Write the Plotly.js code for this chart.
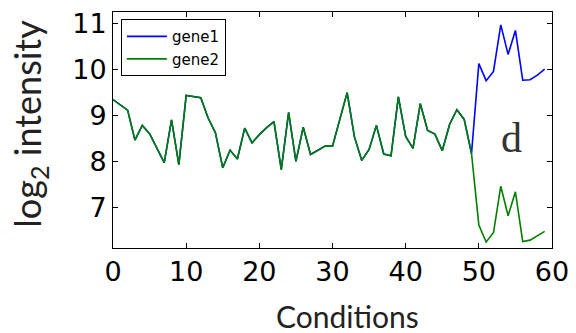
<!DOCTYPE html>
<html>
<head>
<meta charset="utf-8">
<script src="https://cdn.plot.ly/plotly-3.0.1.min.js"></script>
<style>html,body{margin:0;padding:0;background:#fff;}#chart{width:576px;height:333px;}</style>
</head>
<body>
<div id="chart"></div>
<script>
var conditions = [0,1,2,3,4,5,6,7,8,9,10,11,12,13,14,15,16,17,18,19,20,21,22,23,24,25,26,27,28,29,30,31,32,33,34,35,36,37,38,39,40,41,42,43,44,45,46,47,48,49,50,51,52,53,54,55,56,57,58,59];
var gene1 = [9.34,9.22,9.11,8.46,8.78,8.60,8.29,7.97,8.90,7.93,9.43,9.41,9.38,8.94,8.62,7.86,8.24,8.05,8.72,8.40,8.58,8.73,8.86,7.82,9.06,8.00,8.74,8.15,8.24,8.33,8.33,8.91,9.49,8.53,8.02,8.26,8.78,8.16,8.12,9.40,8.54,8.28,9.25,8.67,8.59,8.23,8.80,9.12,8.91,8.17,10.12,9.75,9.95,10.96,10.32,10.84,9.76,9.77,9.87,10.00];
var gene2 = [9.34,9.22,9.11,8.46,8.78,8.60,8.29,7.97,8.90,7.93,9.43,9.41,9.38,8.94,8.62,7.86,8.24,8.05,8.72,8.40,8.58,8.73,8.86,7.82,9.06,8.00,8.74,8.15,8.24,8.33,8.33,8.91,9.49,8.53,8.02,8.26,8.78,8.16,8.12,9.40,8.54,8.28,9.25,8.67,8.59,8.23,8.80,9.12,8.91,8.17,6.62,6.25,6.45,7.46,6.82,7.34,6.26,6.29,6.39,6.48];
var seriesNames = ['gene1','gene2'];
var xTitle = 'Conditions';
var yTitle = 'log<sub>2</sub> intensity';
var panelLabel = 'd';

var traces = [
  {x: conditions, y: gene1, name: seriesNames[0], type: 'scatter', mode: 'lines', line: {color: '#0000ff', width: 1.6}},
  {x: conditions, y: gene2, name: seriesNames[1], type: 'scatter', mode: 'lines', line: {color: '#008000', width: 1.6}}
];

var axisCommon = {
  showgrid: false, zeroline: false, showline: true, linecolor: '#000', linewidth: 1,
  mirror: 'allticks', ticks: 'inside', ticklen: 5, tickwidth: 1, tickcolor: '#000',
  tickfont: {family: 'DejaVu Sans', size: 27, color: '#000'}
};

var layout = {
  width: 576, height: 333,
  margin: {l: 113, r: 24, t: 12, b: 85, pad: 0},
  paper_bgcolor: '#fff', plot_bgcolor: '#fff',
  showlegend: true,
  legend: {
    x: 0.018, y: 0.97, xanchor: 'left', yanchor: 'top',
    bgcolor: '#fff', bordercolor: '#000', borderwidth: 1,
    font: {family: 'DejaVu Sans', size: 15, color: '#000'},
    itemwidth: 40,
    tracegroupgap: 0
  },
  xaxis: Object.assign({}, axisCommon, {range: [0, 60], dtick: 10, tick0: 0}),
  yaxis: Object.assign({}, axisCommon, {range: [6.12, 11.24], dtick: 1, tick0: 0}),
  annotations: [
    {text: xTitle, xref: 'paper', yref: 'paper', x: 0, y: 0, xanchor: 'center', yanchor: 'middle',
     xshift: 234, yshift: -68, showarrow: false,
     font: {family: 'Lato', size: 30, color: '#222'}},
    {text: yTitle, xref: 'paper', yref: 'paper', x: 0, y: 0.527, xanchor: 'center', yanchor: 'middle',
     xshift: -83, textangle: -90, showarrow: false,
     font: {family: 'Lato', size: 36, color: '#222'}},
    {text: panelLabel, xref: 'x', yref: 'y', x: 54.5, y: 8.5, xanchor: 'center', yanchor: 'middle',
     showarrow: false, font: {family: 'Liberation Serif', size: 42, color: '#333'}}
  ]
};

Plotly.newPlot('chart', traces, layout, {displayModeBar: false, staticPlot: true});
</script>
</body>
</html>
